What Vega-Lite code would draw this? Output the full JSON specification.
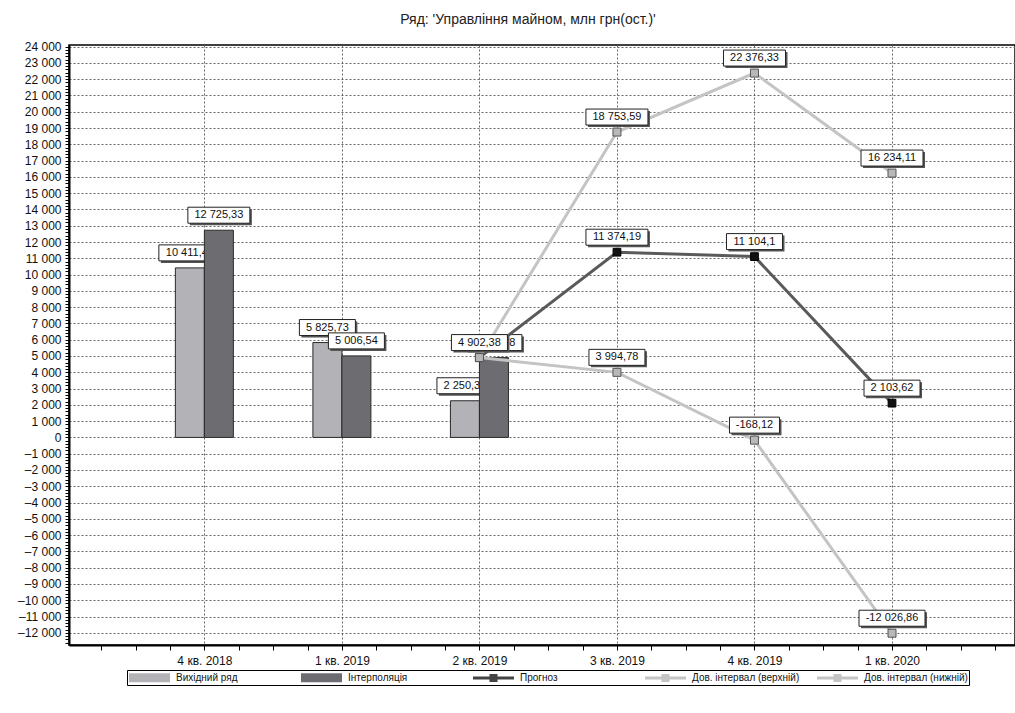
{
  "$schema": "https://vega.github.io/schema/vega-lite/v6.json",
  "width": 946,
  "height": 600,
  "autosize": {"type": "none"},
  "padding": {"left": 69, "top": 45, "right": 0, "bottom": 68},
  "title": {"text": "Ряд:  'Управління майном, млн грн(ост.)'", "fontSize": 14, "font": "Liberation Sans", "fontWeight": "normal", "color": "#222", "anchor": "middle", "dx": -14, "offset": 14},
  "config": {
    "locale": {"number": {"decimal": ",", "thousands": " ", "grouping": [3], "currency": ["", ""], "minus": "-"}},
    "view": {"stroke": "#000", "strokeWidth": 1.5},
    "legend": {"orient": "none", "legendX": 58, "legendY": 625, "direction": "horizontal", "columns": 5, "symbolSize": 144, "symbolOffset": 15, "symbolOpacity": 1, "symbolStrokeColor": "#333", "symbolStrokeWidth": 0.8, "labelFont": "Liberation Sans", "labelFontSize": 10, "labelColor": "#111", "labelOffset": 20, "columnPadding": 15, "gridAlign": "all", "padding": 1, "strokeColor": "#000", "fillColor": "#fff", "labelLimit": 300}
  },
  "data": {"values": [
    {"q": "4 кв. 2018", "i": 1, "s": "Вихідний ряд", "v": 10411.46},
    {"q": "1 кв. 2019", "i": 2, "s": "Вихідний ряд", "v": 5825.73},
    {"q": "2 кв. 2019", "i": 3, "s": "Вихідний ряд", "v": 2250.35},
    {"q": "4 кв. 2018", "i": 1, "s": "Інтерполяція", "v": 12725.33},
    {"q": "1 кв. 2019", "i": 2, "s": "Інтерполяція", "v": 5006.54},
    {"q": "2 кв. 2019", "i": 3, "s": "Інтерполяція", "v": 4902.38},
    {"q": "2 кв. 2019", "i": 3, "s": "Прогноз", "v": 4902.38},
    {"q": "3 кв. 2019", "i": 4, "s": "Прогноз", "v": 11374.19},
    {"q": "4 кв. 2019", "i": 5, "s": "Прогноз", "v": 11104.1},
    {"q": "1 кв. 2020", "i": 6, "s": "Прогноз", "v": 2103.62},
    {"q": "2 кв. 2019", "i": 3, "s": "Дов. інтервал (верхній)", "v": 4902.38},
    {"q": "3 кв. 2019", "i": 4, "s": "Дов. інтервал (верхній)", "v": 18753.59},
    {"q": "4 кв. 2019", "i": 5, "s": "Дов. інтервал (верхній)", "v": 22376.33},
    {"q": "1 кв. 2020", "i": 6, "s": "Дов. інтервал (верхній)", "v": 16234.11},
    {"q": "2 кв. 2019", "i": 3, "s": "Дов. інтервал (нижній)", "v": 4902.38},
    {"q": "3 кв. 2019", "i": 4, "s": "Дов. інтервал (нижній)", "v": 3994.78},
    {"q": "4 кв. 2019", "i": 5, "s": "Дов. інтервал (нижній)", "v": -168.12},
    {"q": "1 кв. 2020", "i": 6, "s": "Дов. інтервал (нижній)", "v": -12026.86}
  ]},
  "transform": [
    {"calculate": "format(datum.v, ',.2~f')", "as": "lab"},
    {"calculate": "length(datum.lab)", "as": "len"}
  ],
  "encoding": {
    "x": {"field": "i", "type": "quantitative", "title": null,
      "scale": {"domain": [0.052, 6.858], "nice": false, "zero": false},
      "axis": {"values": [0.25, 0.5, 0.75, 1, 1.25, 1.5, 1.75, 2, 2.25, 2.5, 2.75, 3, 3.25, 3.5, 3.75, 4, 4.25, 4.5, 4.75, 5, 5.25, 5.5, 5.75, 6, 6.25, 6.5, 6.75],
        "labelExpr": "datum.value % 1 === 0 ? ['4 кв. 2018','1 кв. 2019','2 кв. 2019','3 кв. 2019','4 кв. 2019','1 кв. 2020'][datum.value - 1] : ''",
        "grid": true, "gridOpacity": {"condition": {"test": "datum.value % 1 === 0", "value": 1}, "value": 0},
        "gridColor": "#666", "gridDash": [2, 2], "gridWidth": 1,
        "domainColor": "#000", "domainWidth": 2, "tickColor": "#000", "tickSize": 5,
        "labelFont": "Liberation Sans", "labelFontSize": 12, "labelColor": "#111", "labelPadding": 5,
        "labelOverlap": false, "labelFlush": false, "labelBound": false}},
    "y": {"field": "v", "type": "quantitative", "title": null,
      "scale": {"domain": [-12750, 24100], "nice": false, "zero": false},
      "axis": {"tickCount": 185,
        "labelExpr": "datum.value % 1000 === 0 ? replace(format(datum.value, ',d'), '-', '–') : ''",
        "grid": true, "gridOpacity": {"condition": {"test": "datum.value % 1000 === 0", "value": 1}, "value": 0},
        "gridColor": "#666", "gridDash": [2, 2], "gridWidth": 1,
        "domainColor": "#000", "domainWidth": 2, "tickColor": "#000", "tickSize": 4,
        "labelFont": "Liberation Sans", "labelFontSize": 12, "labelColor": "#111", "labelPadding": 4,
        "labelOverlap": false, "labelFlush": false, "labelBound": false}}
  },
  "layer": [
    {"transform": [{"filter": "datum.s === 'Вихідний ряд'"}],
     "mark": {"type": "bar", "orient": "vertical", "width": 29, "xOffset": -14.5, "fill": "#b3b3b7", "stroke": "#2a2a2a", "strokeWidth": 1}},
    {"transform": [{"filter": "datum.s === 'Вихідний ряд'"}],
     "mark": {"type": "point", "filled": true, "fill": "#555", "opacity": 1, "size": 10000, "strokeWidth": 0, "xOffset": -12.5, "yOffset": -13},
     "encoding": {"shape": {"condition": [{"test": "datum.len <= 7", "value": "M-0.5,-0.16H0.5V0.16H-0.5Z"}, {"test": "datum.len == 8", "value": "M-0.56,-0.16H0.56V0.16H-0.56Z"}, {"test": "datum.len >= 10", "value": "M-0.66,-0.16H0.66V0.16H-0.66Z"}], "value": "M-0.62,-0.16H0.62V0.16H-0.62Z"}}},
    {"transform": [{"filter": "datum.s === 'Вихідний ряд'"}],
     "mark": {"type": "point", "filled": true, "fill": "#fff", "stroke": "#222", "strokeWidth": 1, "opacity": 1, "size": 10000, "xOffset": -14.5, "yOffset": -15},
     "encoding": {"shape": {"condition": [{"test": "datum.len <= 7", "value": "M-0.5,-0.16H0.5V0.16H-0.5Z"}, {"test": "datum.len == 8", "value": "M-0.56,-0.16H0.56V0.16H-0.56Z"}, {"test": "datum.len >= 10", "value": "M-0.66,-0.16H0.66V0.16H-0.66Z"}], "value": "M-0.62,-0.16H0.62V0.16H-0.62Z"}}},
    {"transform": [{"filter": "datum.s === 'Вихідний ряд'"}],
     "mark": {"type": "text", "font": "Liberation Sans", "fontSize": 11, "color": "#111", "baseline": "middle", "align": "center", "xOffset": -14.5, "yOffset": -15},
     "encoding": {"text": {"field": "lab"}}},
    {"transform": [{"filter": "datum.s === 'Інтерполяція'"}],
     "mark": {"type": "bar", "orient": "vertical", "width": 29, "xOffset": 14.5, "fill": "#6d6d71", "stroke": "#2a2a2a", "strokeWidth": 1}},
    {"transform": [{"filter": "datum.s === 'Інтерполяція'"}],
     "mark": {"type": "point", "filled": true, "fill": "#555", "opacity": 1, "size": 10000, "strokeWidth": 0, "xOffset": 16.5, "yOffset": -13},
     "encoding": {"shape": {"condition": [{"test": "datum.len <= 7", "value": "M-0.5,-0.16H0.5V0.16H-0.5Z"}, {"test": "datum.len == 8", "value": "M-0.56,-0.16H0.56V0.16H-0.56Z"}, {"test": "datum.len >= 10", "value": "M-0.66,-0.16H0.66V0.16H-0.66Z"}], "value": "M-0.62,-0.16H0.62V0.16H-0.62Z"}}},
    {"transform": [{"filter": "datum.s === 'Інтерполяція'"}],
     "mark": {"type": "point", "filled": true, "fill": "#fff", "stroke": "#222", "strokeWidth": 1, "opacity": 1, "size": 10000, "xOffset": 14.5, "yOffset": -15},
     "encoding": {"shape": {"condition": [{"test": "datum.len <= 7", "value": "M-0.5,-0.16H0.5V0.16H-0.5Z"}, {"test": "datum.len == 8", "value": "M-0.56,-0.16H0.56V0.16H-0.56Z"}, {"test": "datum.len >= 10", "value": "M-0.66,-0.16H0.66V0.16H-0.66Z"}], "value": "M-0.62,-0.16H0.62V0.16H-0.62Z"}}},
    {"transform": [{"filter": "datum.s === 'Інтерполяція'"}],
     "mark": {"type": "text", "font": "Liberation Sans", "fontSize": 11, "color": "#111", "baseline": "middle", "align": "center", "xOffset": 14.5, "yOffset": -15},
     "encoding": {"text": {"field": "lab"}}},
    {"transform": [{"filter": "datum.s === 'Прогноз'"}],
     "mark": {"type": "line", "stroke": "#5a5a5a", "strokeWidth": 3},
     "encoding": {}},
    {"transform": [{"filter": "datum.s === 'Дов. інтервал (верхній)' || datum.s === 'Дов. інтервал (нижній)'"}],
     "mark": {"type": "line", "stroke": "#c4c4c4", "strokeWidth": 3},
     "encoding": {"detail": {"field": "s"}}},
    {"transform": [{"filter": "datum.s === 'Прогноз'"}],
     "mark": {"type": "point", "shape": "square", "filled": true, "fill": "#111", "stroke": "#000", "strokeWidth": 1, "opacity": 1, "size": 60}},
    {"transform": [{"filter": "datum.s === 'Дов. інтервал (верхній)' || datum.s === 'Дов. інтервал (нижній)'"}],
     "mark": {"type": "point", "shape": "square", "filled": true, "fill": "#b8b8b8", "stroke": "#555", "strokeWidth": 1, "opacity": 1, "size": 64}},
    {"transform": [{"filter": "(datum.s === 'Прогноз' && datum.i !== 3) || (datum.s === 'Дов. інтервал (верхній)' && datum.i !== 3) || datum.s === 'Дов. інтервал (нижній)'"}],
     "mark": {"type": "point", "filled": true, "fill": "#555", "opacity": 1, "size": 10000, "strokeWidth": 0, "xOffset": 2, "yOffset": -13},
     "encoding": {"shape": {"condition": [{"test": "datum.len <= 7", "value": "M-0.5,-0.16H0.5V0.16H-0.5Z"}, {"test": "datum.len == 8", "value": "M-0.56,-0.16H0.56V0.16H-0.56Z"}, {"test": "datum.len >= 10", "value": "M-0.66,-0.16H0.66V0.16H-0.66Z"}], "value": "M-0.62,-0.16H0.62V0.16H-0.62Z"}}},
    {"transform": [{"filter": "(datum.s === 'Прогноз' && datum.i !== 3) || (datum.s === 'Дов. інтервал (верхній)' && datum.i !== 3) || datum.s === 'Дов. інтервал (нижній)'"}],
     "mark": {"type": "point", "filled": true, "fill": "#fff", "stroke": "#222", "strokeWidth": 1, "opacity": 1, "size": 10000, "yOffset": -15},
     "encoding": {"shape": {"condition": [{"test": "datum.len <= 7", "value": "M-0.5,-0.16H0.5V0.16H-0.5Z"}, {"test": "datum.len == 8", "value": "M-0.56,-0.16H0.56V0.16H-0.56Z"}, {"test": "datum.len >= 10", "value": "M-0.66,-0.16H0.66V0.16H-0.66Z"}], "value": "M-0.62,-0.16H0.62V0.16H-0.62Z"}}},
    {"transform": [{"filter": "(datum.s === 'Прогноз' && datum.i !== 3) || (datum.s === 'Дов. інтервал (верхній)' && datum.i !== 3) || datum.s === 'Дов. інтервал (нижній)'"}],
     "mark": {"type": "text", "font": "Liberation Sans", "fontSize": 11, "color": "#111", "baseline": "middle", "align": "center", "yOffset": -15},
     "encoding": {"text": {"field": "lab"}}},
    {"mark": {"type": "point", "filled": true, "opacity": 0, "size": 10},
     "encoding": {
       "shape": {"field": "s", "type": "nominal", "title": null,
         "scale": {"domain": ["Вихідний ряд", "Інтерполяція", "Прогноз", "Дов. інтервал (верхній)", "Дов. інтервал (нижній)"],
           "range": ["M-3.42,-0.75H3.42V0.75H-3.42Z", "M-3.42,-0.75H3.42V0.75H-3.42Z", "M-3.42,-0.25H-0.67V-0.67H0.67V-0.25H3.42V0.25H0.67V0.67H-0.67V0.25H-3.42Z", "M-3.42,-0.25H-0.67V-0.67H0.67V-0.25H3.42V0.25H0.67V0.67H-0.67V0.25H-3.42Z", "M-3.42,-0.25H-0.67V-0.67H0.67V-0.25H3.42V0.25H0.67V0.67H-0.67V0.25H-3.42Z"]}},
       "fill": {"field": "s", "type": "nominal", "title": null,
         "scale": {"domain": ["Вихідний ряд", "Інтерполяція", "Прогноз", "Дов. інтервал (верхній)", "Дов. інтервал (нижній)"],
           "range": ["#b3b3b7", "#6d6d71", "#444444", "#c4c4c4", "#c4c4c4"]}}
     }}
  ]
}
